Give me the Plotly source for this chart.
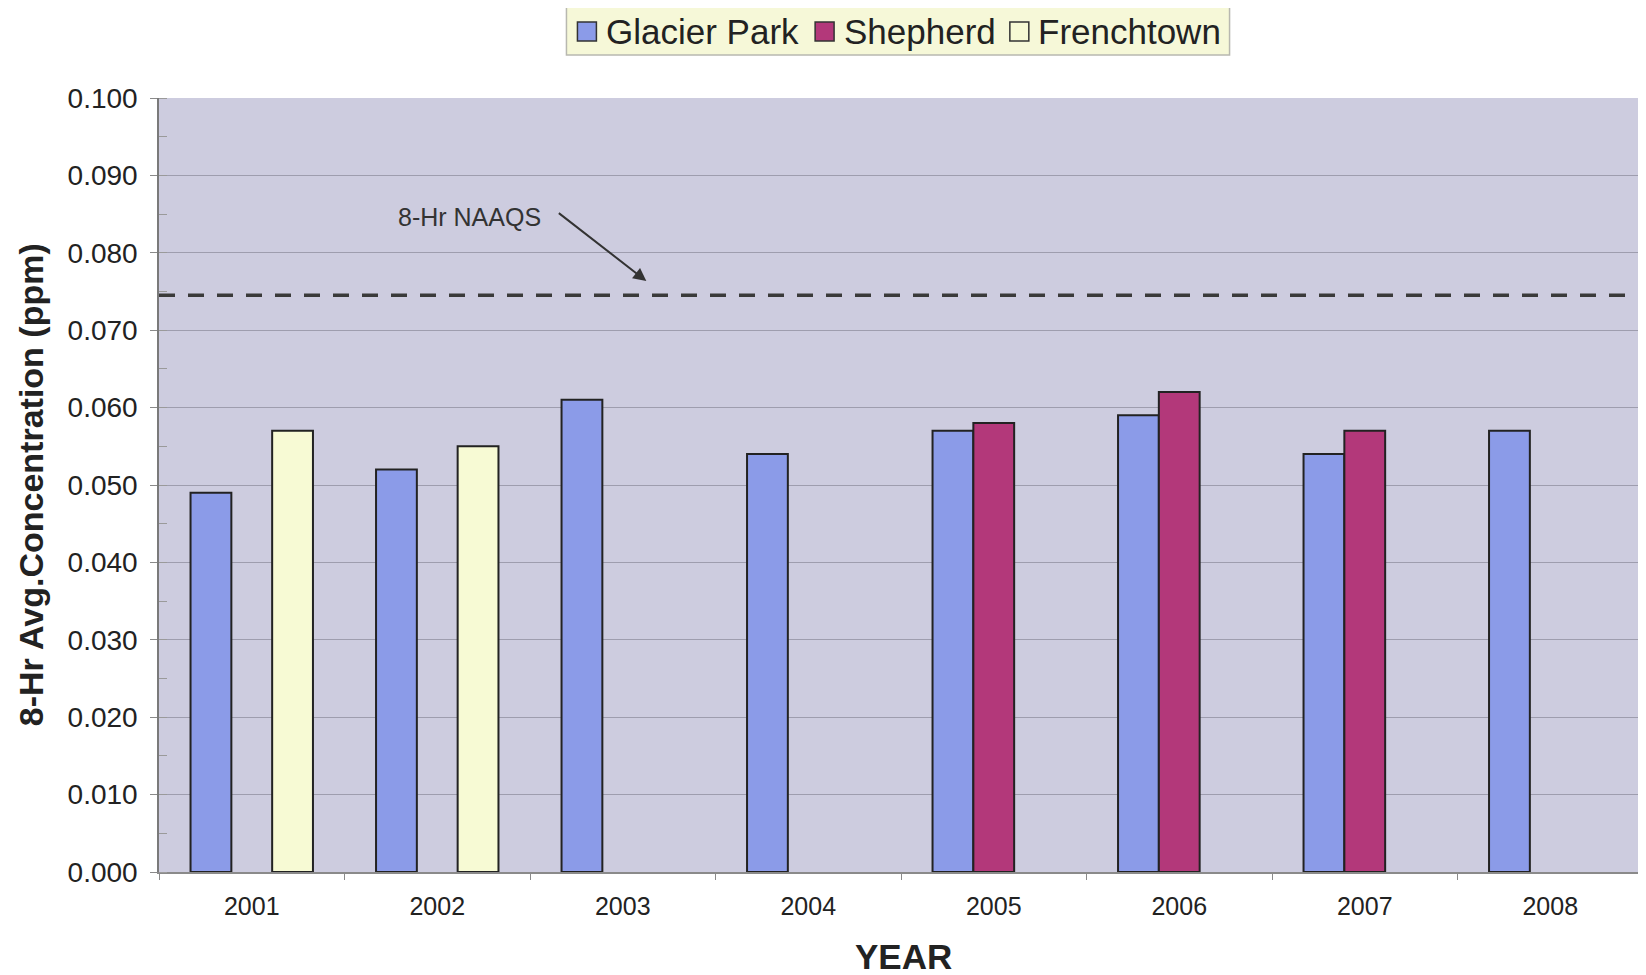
import plotly.graph_objects as go

# ---------------- data ----------------
years = ["2001", "2002", "2003", "2004", "2005", "2006", "2007", "2008"]
series_names = ["Glacier Park", "Shepherd", "Frenchtown"]
glacier_park = [0.049, 0.052, 0.061, 0.054, 0.057, 0.059, 0.054, 0.057]
shepherd = [None, None, None, None, 0.058, 0.062, 0.057, None]
frenchtown = [0.057, 0.055, None, None, None, None, None, None]
naaqs_value = 0.0745
naaqs_label = "8-Hr NAAQS"
y_ticks = [0.0, 0.01, 0.02, 0.03, 0.04, 0.05, 0.06, 0.07, 0.08, 0.09, 0.10]

colors = ["#8B9BE8", "#B3387A", "#F7FAD4"]
FONT = "Liberation Sans, Arial, sans-serif"

OFF = 8  # default page body margin
W, H = 1646 - OFF, 975 - OFF
ML, MR, MT, MB = 151, 1, 90, 103
PW = W - ML - MR
PH = H - MT - MB


def px_x(px_page):
    return (px_page - OFF - ML) / PW


def px_y(py_page):
    return (H - MB - (py_page - OFF)) / PH


fig = go.Figure()
for name, vals, col in zip(series_names, [glacier_park, shepherd, frenchtown], colors):
    fig.add_trace(go.Bar(
        x=years, y=vals, name=name,
        marker=dict(color=col, line=dict(color="#222222", width=2)),
        showlegend=False,
    ))

fig.update_layout(
    width=W, height=H,
    margin=dict(l=ML, r=MR, t=MT, b=MB, pad=0),
    paper_bgcolor="white",
    plot_bgcolor="#CDCCDF",
    barmode="group",
    bargap=0.34,
    bargroupgap=0.0,
    font=dict(family=FONT, color="#222222"),
    xaxis=dict(
        type="category",
        tickson="boundaries",
        ticks="outside", ticklen=6, tickcolor="#8a8a8a",
        showgrid=False,
        showline=True, linecolor="#8a8a8a", linewidth=1.5,
        tickfont=dict(size=25, color="#222222"),
        ticklabelstandoff=11,
    ),
    yaxis=dict(
        range=[0, 0.1],
        tickvals=y_ticks,
        tickformat=".3f",
        ticks="outside", ticklen=7, tickcolor="#8a8a8a",
        showgrid=True, gridcolor="#9E9DAE", gridwidth=1,
        showline=True, linecolor="#7a7a7a", linewidth=1.5, mirror=True,
        zeroline=False,
        tickfont=dict(size=28, color="#222222"),
        ticklabelstandoff=7,
        minor=dict(dtick=0.005, ticks="inside", ticklen=8, tickcolor="#9a9a9a", showgrid=False),
    ),
)

# NAAQS dashed line
fig.add_shape(type="line", xref="paper", yref="y", x0=0, x1=1, y0=naaqs_value, y1=naaqs_value,
              line=dict(color="#3a3a3a", width=3.5, dash="16px,13px"))

# NAAQS label and arrow
fig.add_annotation(xref="paper", yref="paper", x=px_x(470), y=px_y(217), text=naaqs_label,
                   showarrow=False, font=dict(size=25, color="#333333"),
                   xanchor="center", yanchor="middle")
fig.add_annotation(xref="paper", yref="paper", x=px_x(647), y=px_y(281), text="",
                   showarrow=True, ax=-89, ay=-69, arrowhead=2, arrowsize=1.3,
                   arrowwidth=2, arrowcolor="#333333")

# axis titles
fig.add_annotation(xref="paper", yref="paper", x=px_x(31), y=px_y(485),
                   text="<b>8-Hr Avg.Concentration (ppm)</b>", textangle=-90,
                   showarrow=False, font=dict(size=34, color="#222222"),
                   xanchor="center", yanchor="middle")
fig.add_annotation(xref="paper", yref="paper", x=px_x(905), y=px_y(956),
                   text="<b>YEAR</b>", showarrow=False,
                   font=dict(size=35, color="#222222"),
                   xanchor="center", yanchor="middle")

# custom legend (box, swatches, labels)
fig.add_shape(type="rect", xref="paper", yref="paper",
              x0=px_x(567), x1=px_x(1231), y0=px_y(55), y1=px_y(5),
              fillcolor="#F6F8D8", line=dict(color="#B8B8B0", width=1.5), layer="above")
sw_x = [578, 816, 1011]
tx_x = [605, 843, 1037]
for name, col, sx, tx in zip(series_names, colors, sw_x, tx_x):
    fig.add_shape(type="rect", xref="paper", yref="paper",
                  x0=px_x(sx), x1=px_x(sx + 19), y0=px_y(41), y1=px_y(22),
                  fillcolor=col, line=dict(color="#333333", width=1.5), layer="above")
    fig.add_annotation(xref="paper", yref="paper", x=px_x(tx), y=px_y(31.5), text=name,
                       showarrow=False, font=dict(size=35, color="#222222"),
                       xanchor="left", yanchor="middle")

fig.write_html("out.html")
